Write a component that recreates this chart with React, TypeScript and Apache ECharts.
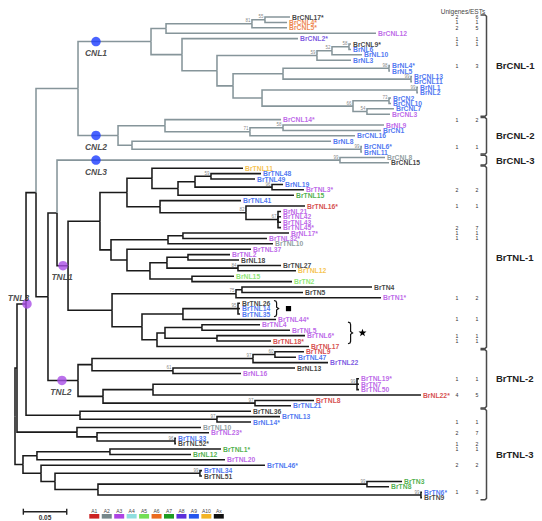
import React, { useEffect, useRef } from "react";
import * as echarts from "echarts";

// ---------------- DATA ----------------
// Newick pieces. The number after ":" is the node's distance from the root
// (substitutions / site); labels after ")" are bootstrap supports.
const cnl1Clade =
  "((((BrCNL17*:0.3168,BrCNL4*:0.3134)55:0.2880,BrCNL5*:0.3134)81:0.2730,BrCNL12:0.4159):0.1740," +
  "(BrCNL2*:0.3260,((((BrCNL9*:0.3871,BrNL6:0.3871)58:0.3848,BrNL10:0.3998)52:0.3652,BrNL3:0.3871)59:0.3479," +
  "(((BrNL4*:0.4320,BrNL5:0.4320)98:0.4309,(BrCNL13:0.4574,BrCNL11:0.4574)99:0.4562):0.3088," +
  "((BrNL1:0.4643,BrNL2:0.4643)99:0.4631,((BrCN2:0.4332,BrCNL10:0.4332)73:0.4309,(BrCNL7:0.4366,BrCNL3:0.4320)54:0.4055)66:0.3894):0.2846):0.2512):0.2327):0.1924):0.1567";
const cnl2Clade =
  "((BrCNL14*:0.3065,((BrNL9:0.4251,BrCN1:0.4217)58:0.3088,BrCNL16:0.3917)71:0.2707):0.1728," +
  "(BrNL8:0.3641,(BrCNL6*:0.3998,BrNL11:0.3998)99:0.3986):0.1348):0.1187";
const cnl3Clade = "(BrCNL8:0.4263,BrCNL15:0.4309)99:0.3744";
const tnl1Upper =
  "(((BrTNL11:0.2627,(((BrTNL48:0.2834,BrTNL49:0.2765)59:0.2258,(BrNL19:0.3088,BrTNL3*:0.3329)96:0.2961):0.2074,BrTNL15:0.3214):0.1878):0.1578," +
  "(BrTNL41:0.2604,(BrTNL16*:0.3341,(BrNL21:0.3065,BrTNL42:0.3065,BrTNL43:0.3065,BrTNL45*:0.3065)67:0.3030)82:0.2661):0.1671):0.1290," +
  "(((BrNL17*:0.3157,BrTNL32*:0.2903):0.1935,BrTNL10:0.2972):0.1763," +
  "(BrTNL37:0.2719,(((BrTNL2:0.2477,BrNL18:0.2581):0.1993,(BrTNL27:0.3065,BrTNL12:0.3237)84:0.2569):0.1751,(BrNL15:0.2523,BrTN2:0.3191):0.2039):0.1555):0.1290):0.1106):0.0979";
const tnl1Lower =
  "(((BrTN4:0.4113,BrTN5:0.3318):0.2615,BrTN1*:0.4217)75:0.2546," +
  "(((BrTNL26:0.2592,BrTNL14:0.2592,BrTNL35:0.2592)95:0.2569,BrTNL44*:0.3007):0.1935," +
  "(((BrTNL4:0.2823,BrTNL5:0.3168):0.2154,(BrTNL6*:0.3341,BrTNL18*:0.2949):0.2327):0.1728,BrTNL17:0.3387):0.1636):0.1463):0.1118";
const tnl2Clade =
  "((((BrTNL9:0.3329,BrTNL47:0.3237)60:0.2995,BrTNL22:0.3606)97:0.2742,(BrNL13:0.3226,BrNL16:0.2604)61:0.1820):0.0887," +
  "(((BrTNL19*:0.3963,BrTN7:0.3963,BrTNL50:0.3963)99:0.3940,BrNL22*:0.4677):0.1590,(BrTNL8:0.3445,BrTNL21:0.3180)97:0.2765):0.1014):0.0726";
const tnl3Tail = "(BrTNL36:0.2719,(BrTNL13:0.3053,BrNL14*:0.2719)97:0.2327):0.0749";
const basalA = "(BrTNL10:0.2143,(BrTNL23*:0.2235,(BrTNL33:0.1855,BrTNL52*:0.1855)96:0.1843):0.0945):0.0714";
const basalB =
  "(((BrTNL1*:0.2373,BrNL12:0.2028):0.1094,BrTNL20:0.2419):0.0253," +
  "(BrTNL46*:0.2880,((BrTNL34:0.2154,BrTNL51:0.2154)99:0.2131,((BrTN3:0.4459,BrTN8:0.4309)99:0.4055,(BrTN6*:0.4689,BrTN9:0.4689)99:0.4677):0.0956):0.0461):0.0300):0.0092";

// genome group of every leaf, in leaf order (top to bottom)
const leafGroups = [
  "Ax","A6","A6","A3","A8","Ax","A9","A9","A9","A9","A9","A9","A9","A9","A9","A9","A9","A9","A3",
  "A3","A3","A9","A9","A9","A9","A9",
  "A2","Ax",
  "A10","A9","A9","A9","A3","A7","A9","A1","A3","A3","A3","A3","A3","A3","A2","A3","A3","Ax","Ax","A10","A5","A5",
  "Ax","Ax","A3","Ax","A9","A9","A3","A3","A3","A3","A1","A1",
  "A1","A9","A8","Ax","A3","A3","A3","A3","A1","A1","A9",
  "Ax","A9","A9","A2","A3","A9","Ax","A7","A7","A3","A9","A9","Ax","A7","A7","A9","Ax",
];
const groupCodes = ["A1","A2","A3","A4","A5","A6","A7","A8","A9","A10","Ax"];
const groupColors = ["#cc2222","#76878a","#ad44e3","#8fdede","#74df55","#ea6a1f","#1f9c22","#5b2fda","#2456ee","#f3b424","#111111"];

// Unigenes / ESTs
const countLeaves = ["BrCNL17*","BrCNL4*","BrCNL5*","BrCNL2*","BrCNL9*","BrNL4*","BrCNL14*","BrCNL6*","BrTNL3*","BrTNL16*","BrTNL45*","BrNL17*","BrTNL32*","BrTN1*","BrTNL44*","BrTNL6*","BrTNL18*","BrTNL19*","BrNL22*","BrNL14*","BrTNL23*","BrTNL52*","BrTNL1*","BrTNL46*","BrTN6*"];
const unigenes = [2,1,2,1,1,1,1,1,2,1,2,1,1,1,1,1,1,1,4,1,2,1,1,2,1];
const ests =     [6,1,5,1,1,3,2,1,2,1,7,1,1,2,1,1,1,1,5,1,7,2,1,2,3];

// families (right brackets), by first / last leaf index
const familyNames = ["BrCNL-1","BrCNL-2","BrCNL-3","BrTNL-1","BrTNL-2","BrTNL-3"];
const familyFirst = [0,19,26,28,62,73];
const familyLast = [18,25,27,61,72,89];

// bracketed leaf sets marked with a symbol
const markSymbols = ["square","star"];
const markFirst = [53,57];
const markLast = [55,60];

// clade markers: name, leaf range of the clade, position of the dot on its stem
const markerNames = ["CNL1","CNL2","CNL3","TNL1","TNL2","TNL3"];
const markerFirst = [0,19,26,28,62,0];
const markerLast = [18,25,27,61,72,75];
const markerX = [0.0933,0.0933,0.0933,0.0553,0.0541,0.0138];

const scaleBarLength = 0.05;

// ---------------- helpers ----------------
type TNode = { name: string; support: string; d: number; children: TNode[]; y: number; first: number; last: number };

function parseNewick(src: string): TNode {
  const s = src.replace(/\s+/g, "");
  let i = 0;
  const read = (stops: string) => { let t = ""; while (i < s.length && !stops.includes(s[i])) t += s[i++]; return t; };
  const node = (): TNode => {
    const n: TNode = { name: "", support: "", d: 0, children: [], y: 0, first: 0, last: 0 };
    if (s[i] === "(") {
      i++;
      n.children.push(node());
      while (s[i] === ",") { i++; n.children.push(node()); }
      i++;
      n.support = read(":,()");
    } else {
      n.name = read(":,()");
    }
    if (s[i] === ":") { i++; n.d = parseFloat(read(",()")); }
    return n;
  };
  return node();
}

const FONT = '"Liberation Sans", Arial, Helvetica, sans-serif';

export default function App() {
  const ref = useRef<HTMLDivElement>(null);
  useEffect(() => {
    if (!ref.current) return;
    const chart = echarts.init(ref.current, null, { renderer: "svg" });

    const newick = `(((((${cnl1Clade},${cnl2Clade}):0.0726,((${cnl3Clade},(${tnl1Upper},${tnl1Lower}):0.0611):0.0484,${tnl2Clade}):0.0380):0.0242,${tnl3Tail}):0.0127,${basalA}):0.0023,${basalB}):0`;
    const root = parseNewick(newick);
    const leaves: TNode[] = [];
    const nodes: TNode[] = [];
    const walk = (n: TNode) => {
      nodes.push(n);
      if (!n.children.length) {
        n.first = n.last = leaves.length;
        n.y = leaves.length;
        leaves.push(n);
      } else {
        n.children.forEach(walk);
        const a = n.children[0], b = n.children[n.children.length - 1];
        n.first = a.first; n.last = b.last; n.y = (a.y + b.y) / 2;
      }
    };
    walk(root);

    const cnlLast = Math.max(...familyNames.map((f, k) => (f.startsWith("BrCNL") ? familyLast[k] : -1)));
    const segs: number[][] = [];
    const segColor: string[] = [];
    nodes.forEach((n) => {
      n.children.forEach((c) => {
        segs.push([n.d, n.y, n.d, c.y, c.d, c.y]);
        segColor.push(c.last <= cnlLast ? "#86959a" : "#1a1a1a");
      });
    });

    const colorOf = (g: string) => groupColors[groupCodes.indexOf(g)] || "#111";
    const leafData = leaves.map((l, k) => ({ value: [l.d, l.y], name: l.name, label: { color: colorOf(leafGroups[k]) } }));
    const supportData = nodes.filter((n) => n.support).map((n) => ({ value: [n.d, n.y], name: n.support }));

    const markerData = markerNames.map((m, k) => {
      const nd = nodes.find((n) => n.children.length && n.first === markerFirst[k] && n.last === markerLast[k]) || root;
      const isC = m.startsWith("CNL");
      const off = m === "TNL3" ? [-8.5, -6] : isC ? [0, 11.5] : [-1, 11.5];
      return {
        value: [markerX[k], nd.y],
        name: m,
        itemStyle: { color: isC ? "#1c3cff" : "#a94ee6" },
        label: { offset: off },
      };
    });

    const leafIndexByName: Record<string, number> = {};
    leaves.forEach((l, k) => { if (!(l.name in leafIndexByName)) leafIndexByName[l.name] = k; });

    const BRACKET_X = 486.5;
    const MARK_BRACE_X = [274, 348];
    const furniture = (params: any, api: any) => {
      const py = (v: number) => api.coord([0, v])[1];
      const children: any[] = [];
      const txt = (text: string, x: number, y: number, font: string, fill: string, align = "center", valign = "middle") => ({
        type: "text",
        style: { text, x, y, font, fill, align, verticalAlign: valign, textAlign: align, textVerticalAlign: valign },
      });
      children.push(txt("Unigenes/ESTs", 463, 11, `6.5px ${FONT}`, "#444"));
      countLeaves.forEach((nm, k) => {
        const idx = leafIndexByName[nm];
        if (idx === undefined) return;
        const y = py(idx);
        children.push(txt(String(unigenes[k]), 457, y, `5.2px ${FONT}`, "#333"));
        children.push(txt(String(ests[k]), 477, y, `5.2px ${FONT}`, "#333"));
      });
      familyNames.forEach((f, k) => {
        const y1 = py(familyFirst[k] - 0.5);
        const y2 = py(familyLast[k] + 0.5);
        const X = BRACKET_X;
        children.push({
          type: "polyline",
          shape: { points: [[X - 6, y1 + 0.6], [X - 1.5, y1 + 0.6], [X, y1 + 2], [X, y2 - 2], [X - 1.5, y2 - 0.6], [X - 6, y2 - 0.6]] },
          style: { stroke: "#4a4a4a", lineWidth: 1.5, fill: "none" },
        });
        children.push(txt(f, 496, (y1 + y2) / 2, `bold 9.5px ${FONT}`, "#222", "left"));
      });
      // braces with symbols
      markSymbols.forEach((sym, k) => {
        const x0 = MARK_BRACE_X[k];
        const y1 = py(markFirst[k] - 0.5);
        const y2 = py(markLast[k] + 0.5);
        const ym = (y1 + y2) / 2;
        children.push({
          type: "polyline",
          shape: {
            points: [[x0, y1], [x0 + 2, y1 + 0.7], [x0 + 2.6, y1 + 2.4], [x0 + 2.6, ym - 1.4], [x0 + 4.6, ym], [x0 + 2.6, ym + 1.4], [x0 + 2.6, y2 - 2.4], [x0 + 2, y2 - 0.7], [x0, y2]],
          },
          style: { stroke: "#111", lineWidth: 1.2, fill: "none" },
        });
        const cx = x0 + 14.5;
        if (sym === "square") {
          children.push({ type: "rect", shape: { x: cx - 2.6, y: ym - 2.6, width: 5.2, height: 5.2 }, style: { fill: "#000" } });
        } else {
          const pts: number[][] = [];
          for (let j = 0; j < 10; j++) {
            const r = j % 2 === 0 ? 4.2 : 1.7;
            const a = -Math.PI / 2 + (j * Math.PI) / 5;
            pts.push([cx + r * Math.cos(a), ym + r * Math.sin(a)]);
          }
          children.push({ type: "polygon", shape: { points: pts }, style: { fill: "#000" } });
        }
      });
      // scale bar
      const sx1 = api.coord([0.0096, 0])[0];
      const sx2 = api.coord([0.0096 + scaleBarLength, 0])[0];
      const sy = 511.7;
      children.push({ type: "line", shape: { x1: sx1, y1: sy, x2: sx2, y2: sy }, style: { stroke: "#222", lineWidth: 1.4 } });
      children.push({ type: "line", shape: { x1: sx1, y1: sy - 3, x2: sx1, y2: sy + 3 }, style: { stroke: "#222", lineWidth: 1.4 } });
      children.push({ type: "line", shape: { x1: sx2, y1: sy - 3, x2: sx2, y2: sy + 3 }, style: { stroke: "#222", lineWidth: 1.4 } });
      children.push(txt(String(scaleBarLength), (sx1 + sx2) / 2, 517, `bold 6.5px ${FONT}`, "#333"));
      return { type: "group", children };
    };

    const legendGraphics: any[] = [];
    groupCodes.forEach((g, k) => {
      const x = 89.3 + k * 12.45;
      legendGraphics.push({ type: "rect", shape: { x, y: 514, width: 10, height: 4.6 }, style: { fill: groupColors[k] } });
      legendGraphics.push({
        type: "text",
        style: { text: g, x: x + 5, y: 510.5, font: `5px ${FONT}`, fill: "#444", align: "center", verticalAlign: "middle", textAlign: "center", textVerticalAlign: "middle" },
      });
    });

    chart.setOption({
      animation: false,
      grid: { left: 15, right: 6.2, top: 17, bottom: 23.4 },
      xAxis: { type: "value", min: 0, max: 0.6, show: false },
      yAxis: { type: "value", min: 0, max: leaves.length - 1, inverse: true, show: false },
      graphic: legendGraphics,
      series: [
        {
          type: "custom",
          silent: true,
          clip: false,
          data: segs,
          encode: { x: [0, 2, 4], y: [1, 3, 5] },
          renderItem: (params: any, api: any) => {
            const s = segs[params.dataIndex];
            return {
              type: "polyline",
              shape: { points: [api.coord([s[0], s[1]]), api.coord([s[2], s[3]]), api.coord([s[4], s[5]])] },
              style: { stroke: segColor[params.dataIndex], lineWidth: 1.55, fill: "none" },
            };
          },
          z: 1,
        },
        {
          type: "scatter",
          silent: true,
          symbolSize: 0,
          data: leafData,
          label: { show: true, position: "right", distance: 2, formatter: "{b}", fontSize: 6.8, fontWeight: "bold", fontFamily: FONT },
          z: 2,
        },
        {
          type: "scatter",
          silent: true,
          symbolSize: 0,
          data: supportData,
          label: { show: true, position: "left", distance: 1.5, offset: [0, -2.8], formatter: "{b}", fontSize: 4.5, color: "#666", fontFamily: FONT },
          z: 2,
        },
        {
          type: "scatter",
          silent: true,
          symbolSize: 9.5,
          data: markerData,
          label: { show: true, position: "inside", formatter: "{b}", fontSize: 8.5, fontStyle: "italic", fontWeight: "bold", color: "#222", fontFamily: FONT },
          z: 3,
        },
        {
          type: "custom",
          silent: true,
          clip: false,
          data: [[0, 0]],
          renderItem: furniture,
          z: 4,
        },
      ],
    });
    return () => chart.dispose();
  }, []);
  return <div ref={ref} style={{ position: "absolute", left: 0, top: 0, width: 542, height: 521 }} />;
}
